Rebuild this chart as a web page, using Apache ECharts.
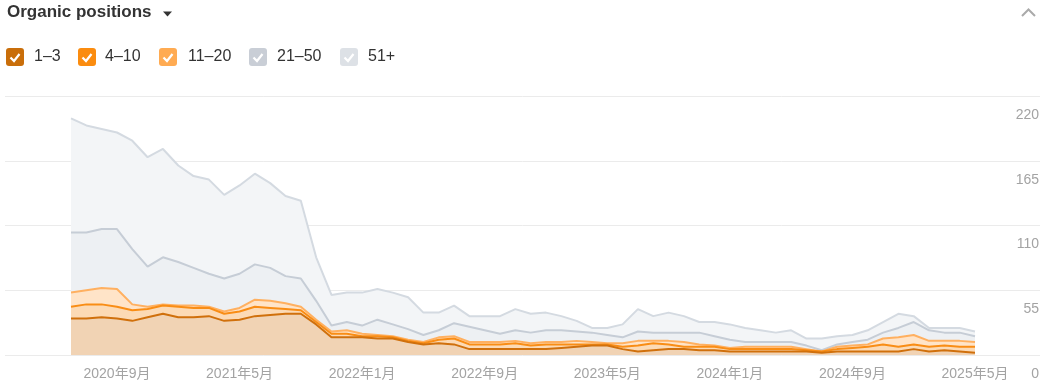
<!DOCTYPE html>
<html>
<head>
<meta charset="utf-8">
<script src="https://cdn.jsdelivr.net/npm/echarts@6/dist/echarts.min.js"></script>
<style>
html,body{margin:0;padding:0;background:#fff;}
#chart{width:1054px;height:387px;}
</style>
</head>
<body>
<div id="chart"></div>
<script>
// Categories (monthly)
const months = [
 '2020-06','2020-07','2020-08','2020-09','2020-10','2020-11','2020-12',
 '2021-01','2021-02','2021-03','2021-04','2021-05','2021-06','2021-07','2021-08','2021-09','2021-10','2021-11','2021-12',
 '2022-01','2022-02','2022-03','2022-04','2022-05','2022-06','2022-07','2022-08','2022-09','2022-10','2022-11','2022-12',
 '2023-01','2023-02','2023-03','2023-04','2023-05','2023-06','2023-07','2023-08','2023-09','2023-10','2023-11','2023-12',
 '2024-01','2024-02','2024-03','2024-04','2024-05','2024-06','2024-07','2024-08','2024-09','2024-10','2024-11','2024-12',
 '2025-01','2025-02','2025-03','2025-04','2025-05'
];
// Series values (counts of keywords per position bucket)
const pos1_3 = [31,31,32,31,29,32,35,32,32,33, 29,30,33,34,35,35,26,15,15,15, 14,14,11,9,10,9,5,5,5,5, 5,5,6,7,8,8,5,3,4,5, 5,4,4,3,3,3,3,3,3,2, 3,3,3,3,3,5,3,4,3,2];
const pos4_10 = [10,12,11,10,9,7,7,9,8,7, 6,7,8,6,4,3,2,3,3,1, 2,1,1,1,3,5,4,4,4,5, 3,4,3,2,1,1,2,5,6,4, 2,3,3,2,2,2,2,2,1,1, 2,3,4,6,4,4,4,4,4,5];
const pos11_20 = [12,12,14,15,5,2,1,1,2,1, 2,3,6,6,5,3,2,2,3,2, 1,1,1,1,2,2,2,2,2,2, 2,2,2,3,2,1,3,4,2,3, 4,2,1,1,2,2,2,2,1,0, 2,2,2,5,8,8,5,4,5,4];
const pos21_50 = [51,49,50,51,47,34,40,37,32,28, 28,29,30,28,23,24,16,5,7,7, 13,10,9,6,6,11,13,10,7,9, 9,10,10,8,8,7,5,8,7,7, 8,10,8,7,4,4,4,4,3,1, 2,3,4,5,8,11,9,7,7,5];
const pos51 = [97,91,85,82,92,93,92,82,78,80, 71,75,77,72,68,66,37,26,25,28, 26,27,27,19,15,15,9,12,15,18, 16,15,12,9,4,6,11,19,14,17, 14,9,12,13,12,10,8,10,6,10, 7,6,8,9,12,5,2,4,4,4];
// Axis ticks
const yTicks = [0, 55, 110, 165, 220];
const legendNames = ['1–3','4–10','11–20','21–50','51+'];

const FONT = "'Liberation Sans', Arial, 'Noto Sans CJK SC', sans-serif";
const lineColors = ['#d0700c','#f98d15','#ffb060','#c6cdd6','#d4dae1'];
const areaColors = ['#f1d3b4','#fcdab5','#ffe4c8','#edf0f3','#f3f5f7'];
const boxColors  = ['#c96e0a','#fb8c0f','#ffab52','#c9ced6','#dde1e6'];
const boxX = [6, 78, 159, 249, 340];
const textX = [34, 105, 188, 277, 368];

const seriesData = [pos1_3, pos4_10, pos11_20, pos21_50, pos51];

const graphic = [
  {type:'text', left:7, top:4, style:{text:'Organic positions', font:"bold 17px " + FONT, fill:'#333'}},
  {type:'polygon', shape:{points:[[163,11.5],[172,11.5],[167.5,16.5]]}, style:{fill:'#333'}},
  {type:'polyline', shape:{points:[[1022,16],[1028.5,9.5],[1035,16]]}, style:{stroke:'#aaa', lineWidth:2, fill:null}}
];
legendNames.forEach((n, k) => {
  graphic.push({type:'rect', shape:{x:boxX[k], y:48, width:18, height:18, r:3}, style:{fill:boxColors[k]}});
  graphic.push({type:'polyline', shape:{points:[[boxX[k]+4.5,57.5],[boxX[k]+8,61],[boxX[k]+13.5,54]]}, style:{stroke:'#fff', lineWidth:2.2, fill:null}});
  graphic.push({type:'text', x:textX[k], y:57, style:{text:n, font:"16px " + FONT, fill:'#333', verticalAlign:'middle'}});
});

const chart = echarts.init(document.getElementById('chart'), null, {renderer:'canvas'});
chart.setOption({
  animation:false,
  backgroundColor:'#fff',
  graphic: graphic,
  grid:[
    {left:5, right:14, top:96, bottom:32},
    {left:71, right:79, top:96, bottom:32}
  ],
  xAxis:[
    {type:'value', gridIndex:0, show:false, min:0, max:1},
    {type:'category', gridIndex:1, data:months, boundaryGap:false,
     axisLine:{show:false}, axisTick:{show:false}, splitLine:{show:false},
     axisLabel:{
       interval:(idx) => idx % 8 === 3,
       margin:12, color:'#a3a3a3', fontSize:14, fontFamily:FONT,
       formatter:(v) => { const p = v.split('-'); return p[0] + '年' + parseInt(p[1], 10) + '月'; }
     }}
  ],
  yAxis:[
    {type:'value', gridIndex:0, position:'right', min:yTicks[0], max:yTicks[yTicks.length-1], interval:55,
     axisLine:{show:false}, axisTick:{show:false},
     splitLine:{show:true, lineStyle:{color:'#ebebeb', width:1}},
     axisLabel:{inside:true, margin:1, color:'#a3a3a3', fontSize:14, fontFamily:FONT,
       verticalAlign:'top', padding:[12,0,0,0]}},
    {type:'value', gridIndex:1, min:0, max:220, show:false}
  ],
  series: legendNames.map((n, k) => ({
    name:n, type:'line', xAxisIndex:1, yAxisIndex:1, stack:'total',
    data:seriesData[k], showSymbol:false, symbol:'none',
    z: 10 - k,
    lineStyle:{color:lineColors[k], width:2},
    itemStyle:{color:lineColors[k]},
    areaStyle:{color:areaColors[k], opacity:1}
  }))
});
</script>
</body>
</html>
